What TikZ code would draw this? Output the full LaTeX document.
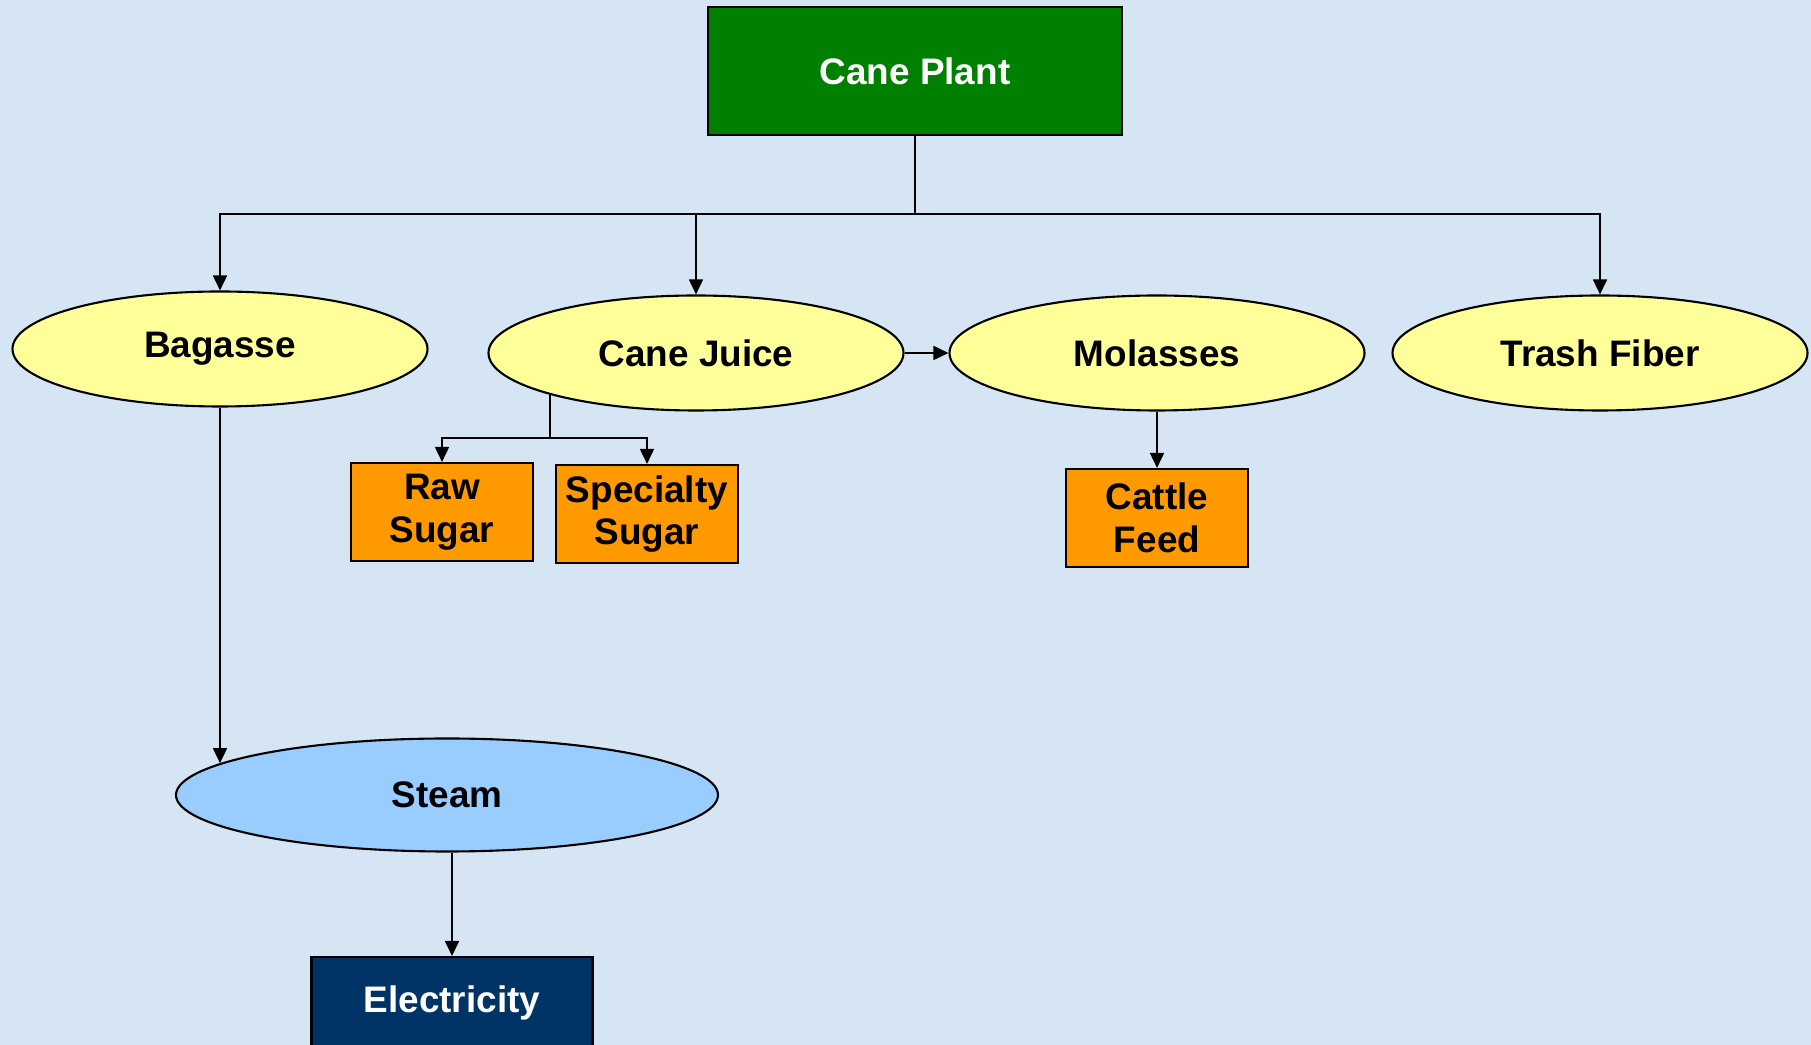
\documentclass[tikz,border=0pt]{standalone}
\usepackage{fontspec}
\setmainfont{Liberation Sans}
\usetikzlibrary{shapes.geometric,arrows.meta}
\definecolor{paper}{RGB}{214,229,244}
\definecolor{canegreen}{RGB}{0,128,0}
\definecolor{juiceyellow}{RGB}{255,255,153}
\definecolor{sugarorange}{RGB}{255,153,0}
\definecolor{steamblue}{RGB}{153,204,255}
\definecolor{powernavy}{RGB}{0,51,102}
\begin{document}
\begin{tikzpicture}[x=0.1mm,y=-0.1mm,
        every node/.style={draw,line width=0.6pt,align=center,inner sep=0pt,
                font=\fontsize{10.5}{12.2}\selectfont\bfseries},
        stage/.style={ellipse,fill=juiceyellow,minimum width=41.5mm,minimum height=11.5mm},
        product/.style={rectangle,fill=sugarorange,minimum width=18.2mm,minimum height=9.8mm},
        link/.style={line width=0.5pt},
        arr/.style={link,-{Triangle[width=1.4mm,length=1.5mm]}}]
\useasboundingbox (0,0) rectangle (1811,1045);
\clip (0,0) rectangle (1811,1045);
\fill[paper] (0,0) rectangle (1811,1045);

\node[rectangle,fill=canegreen,text=white,minimum width=41.4mm,minimum height=12.8mm] (plant) at (915,71) {Cane Plant};

\node[stage] (bagasse) at (220,349) {Bagasse};
\node[stage] (juice) at (696,353) {Cane Juice};
\node[stage] (molasses) at (1157,353) {Molasses};
\node[stage] (trash) at (1600,353) {Trash Fiber};

\node[product] (raw) at (442,512) {Raw\\Sugar};
\node[product] (special) at (647,514) {Specialty\\Sugar};
\node[product] (cattle) at (1157,518) {Cattle\\Feed};

\node[ellipse,fill=steamblue,minimum width=54.2mm,minimum height=11.3mm] (steam) at (447,795) {Steam};
\node[rectangle,fill=powernavy,text=white,minimum width=28.1mm,minimum height=13mm,
      text height=2.65mm,text depth=4.6mm,anchor=north] (elec) at (452,956) {Electricity};

% plant to its parts
\coordinate (bus) at (915,214);
\draw[link] (plant.south) -- (bus);
\draw[arr] (bus) -| (bagasse.north);
\draw[arr] (bus) -| (juice.north);
\draw[arr] (bus) -| (trash.north);

% juice
\draw[arr] (juice.east) -- (molasses.west);
\draw[link] (juice.196) -- ++(0,43) coordinate (jsplit);
\draw[arr] (jsplit) -| (raw.north);
\draw[arr] (jsplit) -| (special.north);

\draw[arr] (molasses.south) -- (cattle.north);

% bagasse to power
\draw[arr] (bagasse.south) -- (bagasse.south |- steam.172);
\draw[arr] (elec.north |- steam.south) -- (elec.north);
\end{tikzpicture}
\end{document}
